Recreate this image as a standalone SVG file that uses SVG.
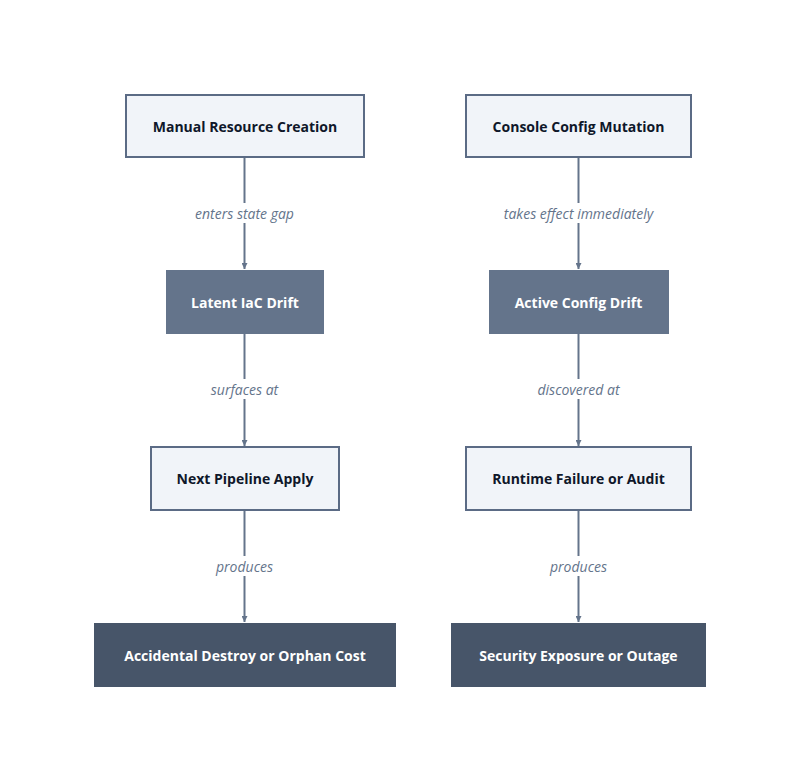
<svg xmlns="http://www.w3.org/2000/svg" width="800" height="781" viewBox="0 0 800 781">
<defs>
<style>
.light{fill:#f1f4f9;stroke:#5b6b85;stroke-width:2}
.mid{fill:#64748b}
.dark{fill:#475569}
.t{font-family:"Open Sans","Noto Sans",sans-serif;font-size:14px;font-weight:bold;text-anchor:middle;dominant-baseline:central}
.tl{fill:#0f172a}
.tw{fill:#ffffff}
.e{stroke:#64748b;stroke-width:2;fill:none;marker-end:url(#a)}
.lb{font-family:"Open Sans","Noto Sans",sans-serif;font-size:14px;font-style:italic;fill:#64748b;text-anchor:middle;dominant-baseline:central}
.lbg{fill:#ffffff}
</style>
<marker id="a" viewBox="0 0 10 10" refX="10" refY="5" markerWidth="6" markerHeight="6" orient="auto" markerUnits="userSpaceOnUse" ><path d="M0,0L10,5L0,10z" fill="#64748b" transform="scale(1)"/></marker>
</defs>
<rect width="800" height="781" fill="#ffffff"/>
<g id="connectors">
<path class="e" d="M244.5,157V269"/><rect class="lbg" x="188" y="203" width="113" height="20"/><text class="lb" x="244.5" y="213">enters state gap</text>
<path class="e" d="M244.5,333V446"/><rect class="lbg" x="205" y="379" width="79" height="20"/><text class="lb" x="244.5" y="389">surfaces at</text>
<path class="e" d="M244.5,510V622"/><rect class="lbg" x="211" y="556" width="67" height="20"/><text class="lb" x="244.5" y="566">produces</text>
<path class="e" d="M578.5,157V269"/><rect class="lbg" x="495" y="203" width="167" height="20"/><text class="lb" x="578.5" y="213">takes effect immediately</text>
<path class="e" d="M578.5,333V446"/><rect class="lbg" x="532" y="379" width="93" height="20"/><text class="lb" x="578.5" y="389">discovered at</text>
<path class="e" d="M578.5,510V622"/><rect class="lbg" x="545" y="556" width="67" height="20"/><text class="lb" x="578.5" y="566">produces</text>
</g>
<g id="n1"><rect class="light" x="126" y="95" width="238" height="62"/><text class="t tl" x="245" y="126">Manual Resource Creation</text></g>
<g id="n2"><rect class="mid" x="166" y="270" width="158" height="64"/><text class="t tw" x="245" y="302">Latent IaC Drift</text></g>
<g id="n3"><rect class="light" x="151" y="447" width="188" height="63"/><text class="t tl" x="245" y="478">Next Pipeline Apply</text></g>
<g id="n4"><rect class="dark" x="94" y="623" width="302" height="64"/><text class="t tw" x="245" y="655">Accidental Destroy or Orphan Cost</text></g>
<g id="n5"><rect class="light" x="466" y="95" width="225" height="62"/><text class="t tl" x="578.5" y="126">Console Config Mutation</text></g>
<g id="n6"><rect class="mid" x="489" y="270" width="180" height="64"/><text class="t tw" x="578.5" y="302">Active Config Drift</text></g>
<g id="n7"><rect class="light" x="466" y="447" width="225" height="63"/><text class="t tl" x="578.5" y="478">Runtime Failure or Audit</text></g>
<g id="n8"><rect class="dark" x="451" y="623" width="255" height="64"/><text class="t tw" x="578.5" y="655">Security Exposure or Outage</text></g>
</svg>
